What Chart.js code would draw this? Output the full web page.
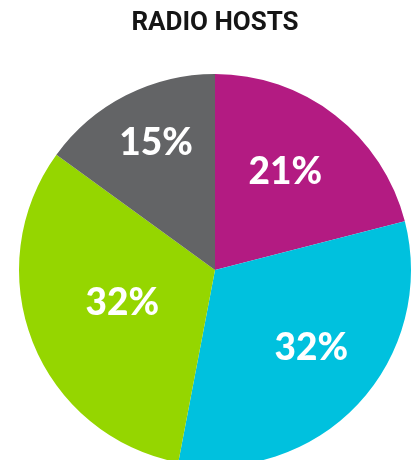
<!DOCTYPE html>
<html>
<head>
<meta charset="utf-8">
<script src="https://cdn.jsdelivr.net/npm/chart.js@4/dist/chart.umd.min.js"></script>
<style>
  html, body { margin: 0; padding: 0; background: #ffffff; overflow: hidden; }
  #wrap { width: 417px; height: 480px; }
</style>
</head>
<body>
<div id="wrap"><canvas id="pie" width="417" height="480"></canvas></div>
<script>
// Share of radio hosts, clockwise from 12 o'clock
const categories = ['Segment A', 'Segment B', 'Segment C', 'Segment D'];
const shares = [21, 32, 32, 15];
const sliceColors = ['#B31B82', '#00C1DE', '#95D600', '#636466'];

// Label placement inside each slice: fraction of radius, and angle nudge (degrees)
const labelRadius = [0.62, 0.63, 0.50, 0.72];
const labelNudge = [-2.5, -4.4, 2.6, 2.3];

const sliceLabels = {
  id: 'sliceLabels',
  afterDatasetsDraw(chart) {
    const ctx = chart.ctx;
    const meta = chart.getDatasetMeta(0);
    ctx.save();
    ctx.fillStyle = '#ffffff';
    ctx.font = '900 37px Lato';
    ctx.textAlign = 'center';
    ctx.textBaseline = 'middle';
    meta.data.forEach((arc, i) => {
      const p = arc.getProps(['x', 'y', 'startAngle', 'endAngle', 'outerRadius'], true);
      const mid = (p.startAngle + p.endAngle) / 2 + labelNudge[i] * Math.PI / 180;
      const r = p.outerRadius * labelRadius[i];
      ctx.fillText(shares[i] + '%', p.x + Math.cos(mid) * r, p.y + Math.sin(mid) * r + 1);
    });
    ctx.restore();
  }
};

new Chart(document.getElementById('pie'), {
  type: 'pie',
  data: {
    labels: categories,
    datasets: [{
      data: shares,
      backgroundColor: sliceColors,
      borderWidth: 0
    }]
  },
  options: {
    responsive: false,
    animation: false,
    layout: { padding: { left: 19, right: 6, top: 0, bottom: 14 } },
    plugins: {
      legend: { display: false },
      tooltip: { enabled: false },
      title: {
        display: true,
        text: 'RADIO HOSTS',
        color: '#151515',
        font: { family: 'Roboto', size: 26, weight: 'bold' },
        padding: { top: 8, bottom: 34.8 }
      }
    }
  },
  plugins: [sliceLabels]
});
</script>
</body>
</html>
